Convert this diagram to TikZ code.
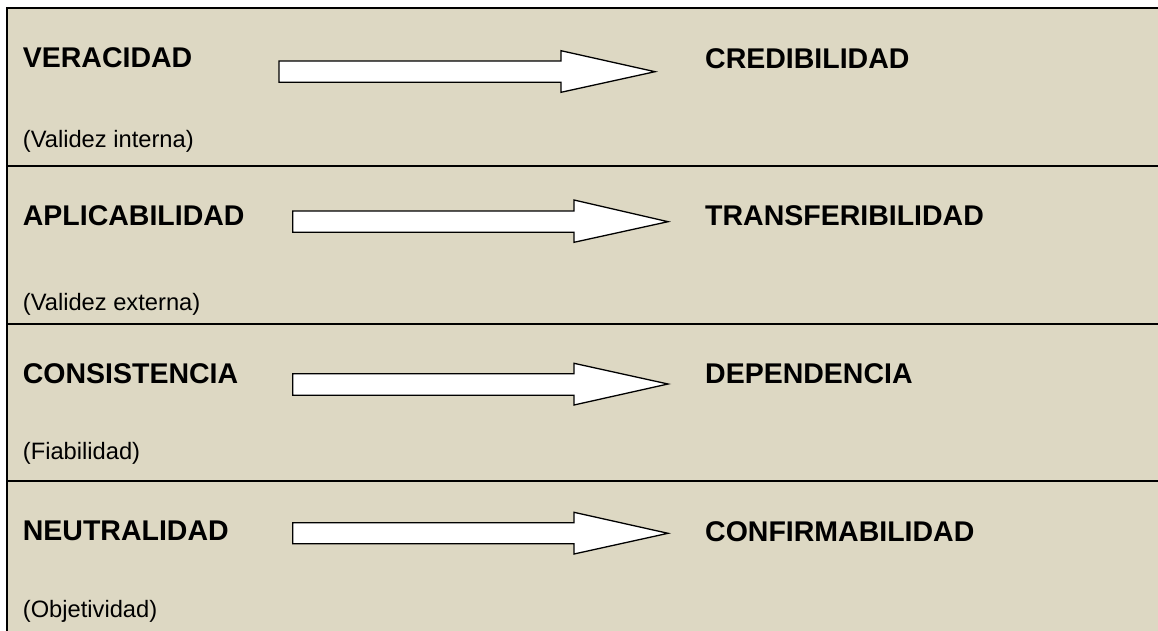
\documentclass[tikz,border=0pt]{standalone}
\usepackage{fontspec}
\setmainfont{Liberation Sans}
\definecolor{bg}{RGB}{221,216,195}
\tikzset{
  headlabel/.style={anchor=base west, inner sep=0pt, font=\fontsize{28.5}{30}\selectfont\bfseries},
  sublabel/.style={anchor=base west, inner sep=0pt, font=\fontsize{23.7}{26}\selectfont},
  blockarrow/.style={draw=black, fill=white, line width=1.3pt, line join=miter},
  tablerule/.style={draw=black, line width=2pt}
}
\begin{document}
\begin{tikzpicture}[x=1pt,y=-1pt]
\useasboundingbox (0,0) rectangle (1158,631);
\fill[bg] (7,8) rectangle (1158,631);
% frame and row rules
\draw[tablerule] (1158,8) -- (7,8) -- (7,631);
\draw[tablerule] (7,166) -- (1158,166);
\draw[tablerule] (7,324) -- (1158,324);
\draw[tablerule] (7,481) -- (1158,481);
% left labels
\node[headlabel] (ver) at (22.7,68) {VERACIDAD};
\node[headlabel] (apl) at (22.7,225) {APLICABILIDAD};
\node[headlabel] (con) at (22.7,383.3) {CONSISTENCIA};
\node[headlabel] (neu) at (22.7,540.7) {NEUTRALIDAD};
% sub labels
\node[sublabel] (vint) at (22.7,148) {(Validez interna)};
\node[sublabel] (vext) at (22.7,310) {(Validez externa)};
\node[sublabel] (fia) at (22.7,459) {(Fiabilidad)};
\node[sublabel] (obj) at (22.7,617) {(Objetividad)};
% right labels
\node[headlabel] (cre) at (705,69) {CREDIBILIDAD};
\node[headlabel] (tra) at (705,225) {TRANSFERIBILIDAD};
\node[headlabel] (dep) at (705,383) {DEPENDENCIA};
\node[headlabel] (cnf) at (705,541) {CONFIRMABILIDAD};
% block arrows
\draw[blockarrow] (279,61) -- (561,61) -- (561,50.7) -- (655,71.7) -- (561,92.3) -- (561,82.3) -- (279,82.3) -- cycle;
\draw[blockarrow] (292.7,211) -- (574,211) -- (574,200) -- (668,221.7) -- (574,242.3) -- (574,232.3) -- (292.7,232.3) -- cycle;
\draw[blockarrow] (292.7,373.7) -- (574,373.7) -- (574,363.3) -- (668,384) -- (574,405) -- (574,395.3) -- (292.7,395.3) -- cycle;
\draw[blockarrow] (292.7,522.7) -- (574,522.7) -- (574,512.3) -- (668,533.3) -- (574,554) -- (574,543.7) -- (292.7,543.7) -- cycle;
\end{tikzpicture}
\end{document}
